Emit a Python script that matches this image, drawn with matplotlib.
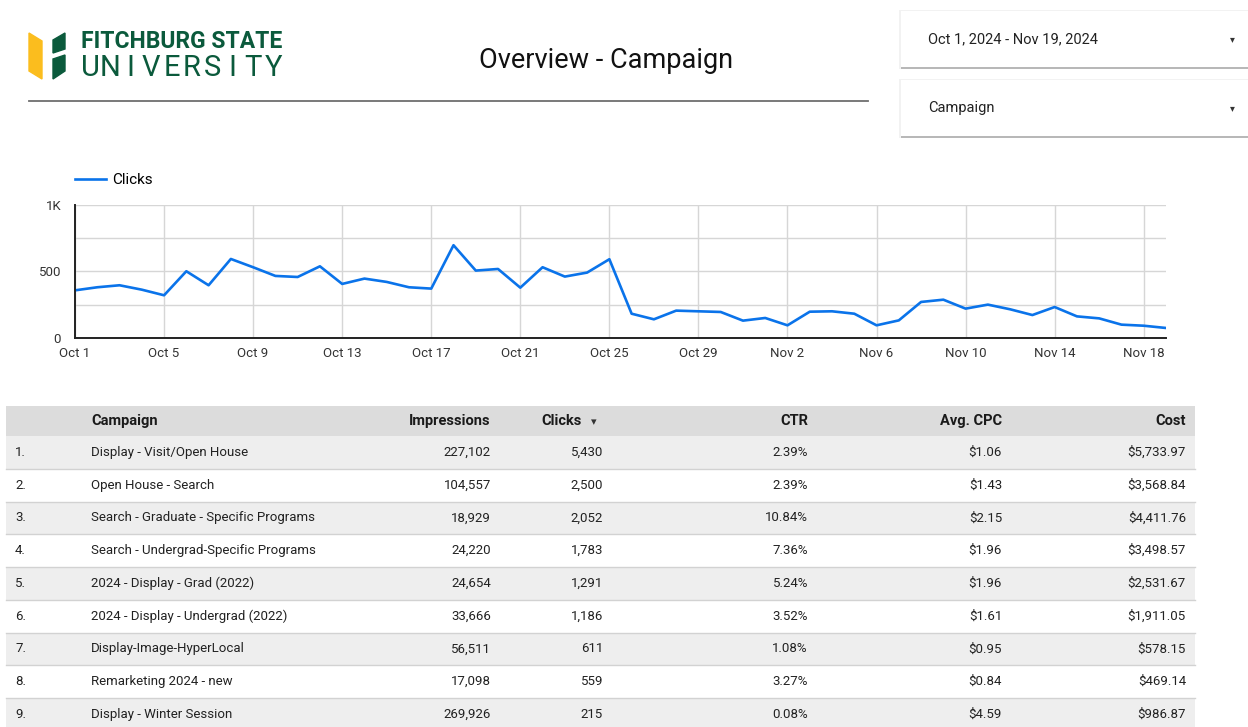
import datetime

import numpy as np
import matplotlib
matplotlib.use("Agg")
import matplotlib.pyplot as plt
import matplotlib.dates as mdates
from matplotlib.patches import Rectangle, Polygon
from matplotlib.ticker import FixedLocator, FuncFormatter

plt.rcParams['font.family'] = ['Roboto', 'DejaVu Sans']

W, H = 1248, 727

# daily clicks, Oct 1 - Nov 19 2024
clicks = [
    357, 380, 395, 362, 320, 500, 395, 592, 530, 465,
    457, 537, 405, 445, 420, 380, 370, 695, 505, 517,
    377, 530, 460, 490, 590, 182, 140, 205, 200, 195,
    130, 150, 95, 197, 200, 182, 95, 132, 270, 287,
    220, 250, 215, 172, 232, 162, 147, 100, 92, 75,
]
start = datetime.date(2024, 10, 1)
days = [start + datetime.timedelta(days=i) for i in range(len(clicks))]

y_ticks = [0, 500, 1000]
y_tick_labels = ["0", "500", "1K"]

# table
ranks = ["1.", "2.", "3.", "4.", "5.", "6.", "7.", "8.", "9."]
campaigns = [
    "Display - Visit/Open House",
    "Open House - Search",
    "Search - Graduate - Specific Programs",
    "Search - Undergrad-Specific Programs",
    "2024 - Display - Grad (2022)",
    "2024 - Display - Undergrad (2022)",
    "Display-Image-HyperLocal",
    "Remarketing 2024 - new",
    "Display - Winter Session",
]
impressions = [227102, 104557, 18929, 24220, 24654, 33666, 56511, 17098, 269926]
table_clicks = [5430, 2500, 2052, 1783, 1291, 1186, 611, 559, 215]
ctr = [2.39, 2.39, 10.84, 7.36, 5.24, 3.52, 1.08, 3.27, 0.08]
avg_cpc = [1.06, 1.43, 2.15, 1.96, 1.96, 1.61, 0.95, 0.84, 4.59]
cost = [5733.97, 3568.84, 4411.76, 3498.57, 2531.67, 1911.05, 578.15, 469.14, 986.87]

fig = plt.figure(figsize=(W / 100, H / 100), dpi=100)
fig.patch.set_facecolor("white")

# page overlay in pixel coords (y down)
bg = fig.add_axes([0, 0, 1, 1])
bg.set_xlim(0, W)
bg.set_ylim(H, 0)
bg.axis("off")

# logo
green = "#0b5a3c"
bg.add_patch(Polygon([(29, 33), (42, 41), (42, 79), (29, 71)], color="#fbbd1e"))
bg.add_patch(Polygon([(53, 40), (65, 33), (65, 49), (53, 53)], color=green))
bg.add_patch(Polygon([(53, 59), (65, 55), (65, 71), (53, 79)], color=green))
bg.text(81, 42, "FITCHBURG STATE", fontsize=16.5, fontweight="bold", color=green,
        va="center", ha="left")
for i, ch in enumerate("UNIVERSITY"):
    bg.text(90 + i * 20.4, 68, ch, fontsize=21, color=green,
            va="center", ha="center")

bg.text(606, 60, "Overview - Campaign", fontsize=19.5, color="#111111",
        ha="center", va="center")
bg.plot([29, 868], [101, 101], color="#6e6e6e", lw=1.3)

# filter controls
for y0, label in [(11, "Oct 1, 2024 - Nov 19, 2024"), (80, "Campaign")]:
    bg.add_patch(Rectangle((899, y0 - 1), 350, 59, color="#f2f2f2", lw=0))
    bg.add_patch(Rectangle((901, y0 + 2), 347, 56, color="#b8b8b8", lw=0))
    bg.add_patch(Rectangle((901, y0), 347, 56, color="white", lw=0))
    bg.text(928, y0 + 28, label, fontsize=10.5, color="#222222", va="center")
    bg.text(1232, y0 + 28, "\u25be", fontsize=7, color="#333333",
            va="center", ha="center")

# line chart
ax = fig.add_axes([75 / W, (H - 338) / H, (1166 - 75) / W, (338 - 204.5) / H])
ax.plot(days, clicks, color="#0a73ea", lw=1.9, label="Clicks",
        solid_joinstyle="round")
ax.set_xlim(days[0], days[-1])
ax.set_ylim(0, 1000)
ax.set_yticks(y_ticks)
ax.set_yticklabels(y_tick_labels)
ax.set_yticks([250, 750], minor=True)
ax.xaxis.set_major_locator(FixedLocator(mdates.date2num(days[::4])))
ax.xaxis.set_major_formatter(
    FuncFormatter(lambda v, p: "{:%b} {}".format(mdates.num2date(v), mdates.num2date(v).day)))
ax.grid(which="both", color="#d6d6d6", lw=1)
ax.set_axisbelow(True)
ax.tick_params(which="both", length=0, labelsize=9.5, colors="#333333")
ax.tick_params(axis="x", pad=6.5)
ax.tick_params(axis="y", pad=10)
for s in ["top", "right"]:
    ax.spines[s].set_visible(False)
for s in ["left", "bottom"]:
    ax.spines[s].set_color("#222222")
    ax.spines[s].set_linewidth(1.4)
ax.patch.set_alpha(0)

ax.legend(loc="center left", bbox_to_anchor=(75 / W, 1 - 180 / H),
          bbox_transform=fig.transFigure, frameon=False, fontsize=11,
          handlelength=2.0, handletextpad=0.45, borderpad=0, borderaxespad=0)

# table
tx0, tx1 = 6, 1195
bg.add_patch(Rectangle((tx0, 406), tx1 - tx0, 30, color="#dcdcdc", lw=0))
hy = 421
hdr = dict(fontsize=10.5, fontweight="bold", color="#1a1a1a", va="center")
bg.text(91, hy, "Campaign", ha="left", **hdr)
bg.text(491, hy, "Impressions", ha="right", **hdr)
bg.text(582, hy, "Clicks", ha="right", **hdr)
bg.text(594, hy + 1, "\u25be", ha="center", va="center", fontsize=8, color="#333333")
bg.text(808, hy, "CTR", ha="right", **hdr)
bg.text(1002, hy, "Avg. CPC", ha="right", **hdr)
bg.text(1186, hy, "Cost", ha="right", **hdr)

row_h = 32.75
cell = dict(fontsize=9.5, color="#222222", va="center")
for i in range(len(campaigns)):
    top = 436 + i * row_h
    bg.add_patch(Rectangle((tx0, top), tx1 - tx0, row_h,
                           color="#eeeeee" if i % 2 == 0 else "white", lw=0))
    bg.plot([tx0, tx1], [top + row_h, top + row_h], color="#d2d2d2", lw=1)
    cy = top + row_h / 2
    bg.text(15, cy, ranks[i], ha="left", **cell)
    bg.text(91, cy, campaigns[i], ha="left", **cell)
    bg.text(491, cy, f"{impressions[i]:,}", ha="right", **cell)
    bg.text(603, cy, f"{table_clicks[i]:,}", ha="right", **cell)
    bg.text(808, cy, f"{ctr[i]:.2f}%", ha="right", **cell)
    bg.text(1002, cy, f"${avg_cpc[i]:.2f}", ha="right", **cell)
    bg.text(1186, cy, f"${cost[i]:,.2f}", ha="right", **cell)

fig.savefig("out.png", dpi=100, facecolor="white")
